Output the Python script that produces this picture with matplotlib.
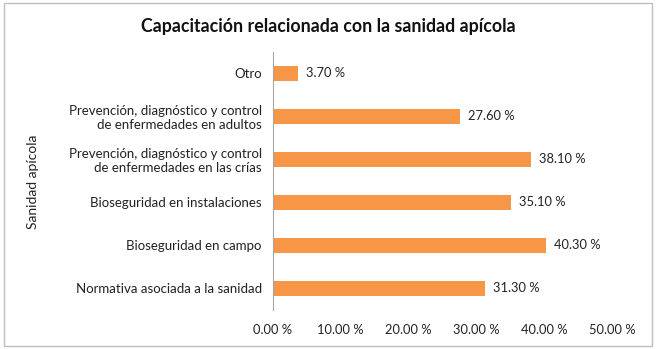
import matplotlib

matplotlib.use("Agg")
import matplotlib.pyplot as plt
from matplotlib.patches import Rectangle

plt.rcParams["font.family"] = ["Lato", "DejaVu Sans"]

# datos (de abajo hacia arriba, como en el eje)
categorias = [
    "Normativa asociada a la sanidad",
    "Bioseguridad en campo",
    "Bioseguridad en instalaciones",
    "Prevención, diagnóstico y control\nde enfermedades en las crías",
    "Prevención, diagnóstico y control\nde enfermedades en adultos",
    "Otro",
]
porcentajes = [31.3, 40.3, 35.1, 38.1, 27.6, 3.7]
ticks_x = [0, 10, 20, 30, 40, 50]

fig = plt.figure(figsize=(6.56, 3.49), dpi=100)
fig.patches.append(Rectangle((0.006, 0.008), 0.988, 0.984, transform=fig.transFigure,
                             fill=False, edgecolor="#BFBFBF", lw=1))

ax = fig.add_axes([0.416, 0.112, 0.517, 0.739])
y = range(len(categorias))
ax.barh(y, porcentajes, height=0.34, color="#F79646")
for yi, v in zip(y, porcentajes):
    ax.text(v + 1.2, yi, f"{v:.2f} %", va="center", ha="left", fontsize=9.3, color="#222222")

ax.set_xlim(0, 50)
ax.set_ylim(-0.5, 5.5)
ax.set_xticks(ticks_x)
ax.set_xticklabels([f"{t:.2f} %" for t in ticks_x], fontsize=9.3, color="#222222")
ax.set_yticks(list(y))
ax.set_yticklabels(categorias, fontsize=9.5, color="#222222")
ax.tick_params(axis="both", length=0, pad=8)
ax.tick_params(axis="x", pad=10)
for s in ["top", "right", "bottom"]:
    ax.spines[s].set_visible(False)
ax.spines["left"].set_color("#A6A6A6")

fig.text(0.05, 0.48, "Sanidad apícola", rotation=90, va="center", ha="center",
         fontsize=10, color="#222222")
fig.text(0.5, 0.925, "Capacitación relacionada con la sanidad apícola", ha="center",
         va="center", fontsize=12.8, fontweight="bold", color="#111111")

fig.savefig("out.png", dpi=100)
